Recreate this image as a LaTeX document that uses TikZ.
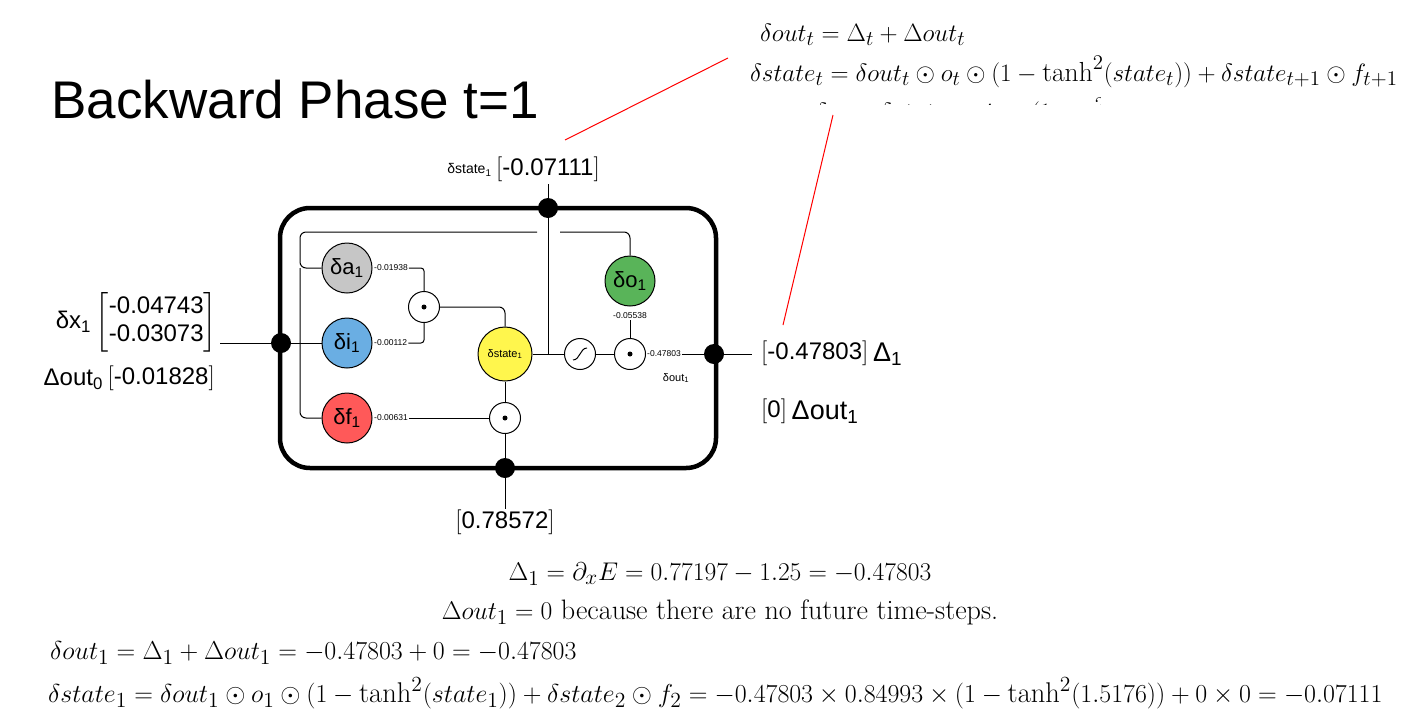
\documentclass[tikz,border=0pt]{standalone}
\usepackage{fontspec}
\usepackage{amsmath}
\usepackage{graphicx}
\usetikzlibrary{calc}
\newfontfamily\sans{Liberation Sans}
\newcommand{\brk}[1]{$\left[\vrule height 17pt depth 7pt width 0pt\text{#1}\right]$}
\begin{document}
\begin{tikzpicture}[x=1pt,y=-1pt,
  ln/.style={line width=1pt},
  bdot/.style={circle,fill=black,minimum size=20pt,inner sep=0},
  gate/.style={circle,draw,line width=1pt,fill=white,minimum size=50pt,inner sep=0,font=\sans\fontsize{22}{24}\selectfont},
  op/.style={circle,draw,line width=1pt,fill=white,minimum size=31pt,inner sep=0},
  sm/.style={font=\sans\fontsize{8.5}{10}\selectfont,inner sep=1pt},
  big/.style={font=\sans\fontsize{24}{28}\selectfont},
  md/.style={font=\sans\fontsize{14}{16}\selectfont},
  fm/.style={font=\fontsize{19}{23}\selectfont,inner sep=0}]
\useasboundingbox (0,0) rectangle (1407,726);
\node[anchor=west,font=\sans\fontsize{53}{60}\selectfont] (title) at (48,100) {Backward Phase t=1};
% box
\draw[line width=4.5pt,rounded corners=30pt] (280,208) rectangle (716,468);
\node[bdot] (top) at (548,208) {};
\node[bdot] (left) at (281,343) {};
\node[bdot] (right) at (714,354) {};
\node[bdot] (bot) at (505,468) {};
% gates
\node[gate,fill=gray!45] (a) at (347,268) {δa\textsubscript{1}};
\node[gate,fill=cyan!70!blue!60] (i) at (347,343) {δi\textsubscript{1}};
\node[gate,fill=red!65] (f) at (347,418) {δf\textsubscript{1}};
\node[gate,fill=green!55!black!65] (o) at (630,281) {δo\textsubscript{1}};
\node[gate,fill=yellow!70,minimum size=54pt,font=\sans\fontsize{11}{12}\selectfont] (s) at (505,354) {δstate\textsubscript{1}};
\node[op] (m1) at (424,307) {}; \fill (m1) circle (2.5pt);
\node[op] (m2) at (505,418) {}; \fill (m2) circle (2.5pt);
\node[op] (sg) at (580,354) {};
\draw[ln] ($(sg)+(-7,6)$) .. controls ($(sg)+(0,6)$) and ($(sg)+(0,-6)$) .. ($(sg)+(7,-6)$);
\node[op] (m3) at (630,354) {}; \fill (m3) circle (2.5pt);
% labels
\node[sm,anchor=west] (la) at (373,268) {-0.01938};
\node[sm,anchor=west] (li) at (373,343) {-0.00112};
\node[sm,anchor=west] (lf) at (373,418) {-0.00631};
\node[sm] (lo) at (630,316) {-0.05538};
\node[sm,anchor=west] (lout) at (646,354) {-0.47803};
\node[sm,font=\sans\fontsize{11}{12}\selectfont] (dout) at (676,378) {δout\textsubscript{1}};
% inner wiring
\draw[ln,rounded corners=6pt] (a.west) -- (300,268) -- (300,232) -- (537,232);
\draw[ln,rounded corners=6pt] (300,268) -- (300,418) -- (f.west);
\draw[ln] (left) -- (i.west);
\draw[ln,rounded corners=6pt] (560,232) -- (630,232) -- (o.north);
\draw[ln,rounded corners=3pt] (la.east) -- (m1.north |- la.east) -- (m1.north);
\draw[ln,rounded corners=3pt] (li.east) -- (m1.south |- li.east) -- (m1.south);
\draw[ln,rounded corners=6pt] (m1.east) -- (s.north |- m1.east) -- (s.north);
\draw[ln] (s.south) -- (m2.north);
\draw[ln] (lf.east) -- (m2.west);
\draw[ln] (m2.south) -- (bot);
\draw[ln] (top) -- (548,354);
\draw[ln] (s.east) -- (sg.west);
\draw[ln] (sg.east) -- (m3.west);
\draw[ln] (lo.south) -- (m3.north);
\draw[ln] (lout.east) -- (right);
% outside
\coordinate (rend) at (752,354);
\draw[ln] (right) -- (rend);
\coordinate (lend) at (220,343);
\draw[ln] (lend) -- (left);
\node[big,anchor=east,inner sep=1pt] (dxv) at (218,322) {$\left[\text{\begin{tabular}{@{}c@{}}-0.04743\\-0.03073\end{tabular}}\right]$};
\node[big,anchor=east] (dx) at (dxv.west) {δx\textsubscript{1}};
\node[big,anchor=east,inner sep=1pt] (dov) at (216,379) {\brk{-0.01828}};
\node[big,anchor=east] (do) at (dov.west) {Δout\textsubscript{0}};
\node[big,inner sep=1pt] (sv) at (548,170) {\brk{-0.07111}};
\node[md,anchor=east] (sl) at (sv.west) {δstate\textsubscript{1}};
\draw[ln] (sv.south) -- (top);
\node[big,inner sep=1pt] (bv) at (505,523) {\brk{0.78572}};
\draw[ln] (bot) -- (bv.north);
\node[big,anchor=west,inner sep=1pt] (rv) at (760,354) {\brk{-0.47803}};
\node[font=\sans\fontsize{27}{30}\selectfont,anchor=west] (D1) at (rv.east) {Δ\textsubscript{1}};
\node[big,anchor=west,inner sep=1pt] (zv) at (760,412) {\brk{0}};
\node[font=\sans\fontsize{27}{30}\selectfont,anchor=west] (Do) at (zv.east) {Δout\textsubscript{1}};
% formulas
\node[fm,anchor=west] (f1) at (760,35) {\scalebox{1.45}{$\delta out_t = \Delta_t + \Delta out_t$}};
\node[fm,anchor=west] (f2) at (750,72) {\scalebox{1.45}{$\delta state_t = \delta out_t \odot o_t \odot (1-\tanh^2(state_t)) + \delta state_{t+1}\odot f_{t+1}$}};
\begin{scope}
\clip (740,92) rectangle (1100,104);
\node[fm,anchor=west] (f3) at (815,113) {\scalebox{1.45}{$\delta a_t = \delta state_t \odot i_t \odot (1-a_t^2)$}};
\end{scope}
\coordinate (r1a) at (565,140); \coordinate (r1b) at (728,58);
\coordinate (r2a) at (783,325); \coordinate (r2b) at (833,115);
\draw[red,line width=1pt] (r1a) -- (r1b);
\draw[red,line width=1pt] (r2a) -- (r2b);
\node[fm] (b1) at (720,574) {\scalebox{1.48}{$\Delta_1 = \partial_x E = 0.77197 - 1.25 = -0.47803$}};
\node[fm] (b2) at (720,612) {\scalebox{1.48}{$\Delta out_1 = 0$ because there are no future time-steps.}};
\node[fm,anchor=west] (b3) at (50,653) {\scalebox{1.5}{$\delta out_1 = \Delta_1 + \Delta out_1 = -0.47803 + 0 = -0.47803$}};
\node[fm,anchor=west] (b4) at (48,693) {\scalebox{1.5}{$\delta state_1 = \delta out_1 \odot o_1 \odot (1-\tanh^2(state_1)) + \delta state_2 \odot f_2 = -0.47803 \times 0.84993 \times (1-\tanh^2(1.5176)) + 0\times 0 = -0.07111$}};
\end{tikzpicture}
\end{document}
